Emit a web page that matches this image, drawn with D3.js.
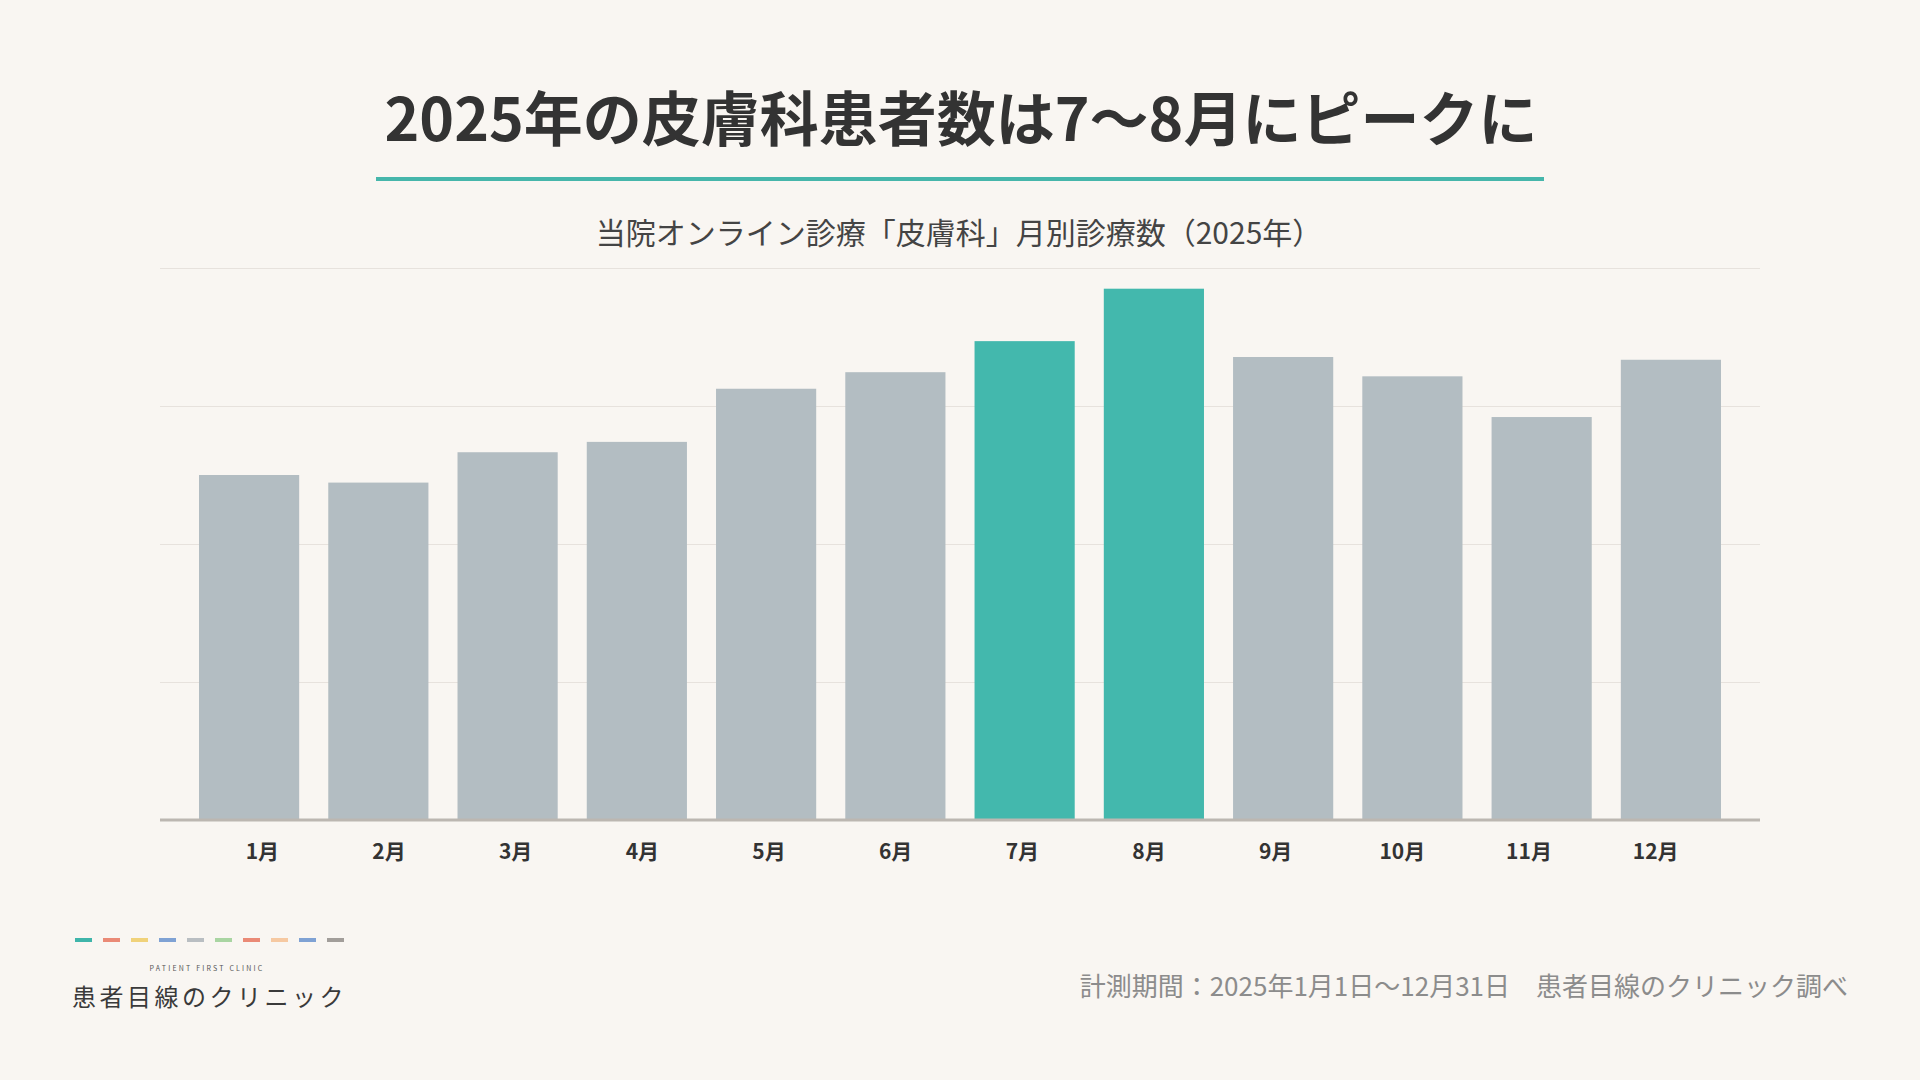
<!DOCTYPE html>
<html lang="ja">
<head>
<meta charset="utf-8">
<script src="https://cdn.jsdelivr.net/npm/d3@7"></script>
<style>
  body { margin: 0; background: #f9f6f2; }
  svg { display: block; font-family: "Noto Sans CJK JP", "Noto Sans", sans-serif; }
</style>
</head>
<body>
<div id="chart"></div>
<script>
var months = ["1月", "2月", "3月", "4月", "5月", "6月", "7月", "8月", "9月", "10月", "11月", "12月"];
var visits = [2500, 2445, 2665, 2740, 3125, 3245, 3470, 3850, 3355, 3215, 2920, 3335];
var peakMonths = ["7月", "8月"];
var gridTicks = [0, 1000, 2000, 3000, 4000];
var logoColors = ["#3fb5aa", "#ea8a76", "#f0d27a", "#7fa2d4", "#b9bec2", "#a9d5a2", "#ea8a76", "#f6c9a2", "#7fa2d4", "#a29e9a"];

var W = 1920, H = 1080;

var svg = d3.select("#chart")
    .append("svg")
    .attr("width", W)
    .attr("height", H);

svg.append("rect")
    .attr("width", W)
    .attr("height", H)
    .attr("fill", "#f9f6f2");

// title
svg.append("text")
    .attr("x", 961)
    .attr("y", 141)
    .attr("text-anchor", "middle")
    .attr("fill", "#333333")
    .attr("font-weight", "bold")
    .style("font-size", "59px")
    .text("2025年の皮膚科患者数は7〜8月にピークに");

svg.append("rect")
    .attr("x", 376)
    .attr("y", 177)
    .attr("width", 1168)
    .attr("height", 4)
    .attr("fill", "#46b6ab");

svg.append("text")
    .attr("x", 959)
    .attr("y", 244)
    .attr("text-anchor", "middle")
    .attr("fill", "#444444")
    .style("font-size", "30px")
    .text("当院オンライン診療「皮膚科」月別診療数（2025年）");

// chart area
var plotLeft = 160, plotRight = 1760, plotTop = 268, plotBottom = 820;

var y = d3.scaleLinear()
    .domain([0, 4000])
    .range([plotBottom, plotTop]);

var x = d3.scaleBand()
    .domain(months)
    .range([199, 1721])
    .paddingInner(0.225)
    .paddingOuter(0);

var xLabel = d3.scaleBand()
    .domain(months)
    .range([199, 1719])
    .padding(0);

svg.append("g")
    .attr("class", "grid")
    .attr("transform", "translate(" + plotLeft + ",0)")
    .call(d3.axisLeft(y).tickValues(gridTicks.slice(1)).tickSize(-(plotRight - plotLeft)).tickFormat(""))
    .call(function (g) { g.select(".domain").remove(); })
    .call(function (g) {
        g.selectAll("line").attr("stroke", "#e7e2dd").attr("stroke-width", 1);
    });

svg.append("g")
    .selectAll("rect")
    .data(visits)
    .enter()
    .append("rect")
    .attr("x", function (d, i) { return x(months[i]); })
    .attr("y", function (d) { return y(d); })
    .attr("width", x.bandwidth())
    .attr("height", function (d) { return y(0) - y(d); })
    .attr("fill", function (d, i) {
        return peakMonths.indexOf(months[i]) >= 0 ? "#43b8ad" : "#b3bdc2";
    });

svg.append("line")
    .attr("x1", plotLeft)
    .attr("x2", plotRight)
    .attr("y1", y(0))
    .attr("y2", y(0))
    .attr("stroke", "#bcb7b1")
    .attr("stroke-width", 3);

svg.append("g")
    .selectAll("text")
    .data(months)
    .enter()
    .append("text")
    .attr("x", function (d) { return xLabel(d) + xLabel.bandwidth() / 2; })
    .attr("y", 859)
    .attr("text-anchor", "middle")
    .attr("fill", "#333333")
    .attr("font-weight", "bold")
    .style("font-size", "21px")
    .text(function (d) { return d; });

// logo
svg.append("g")
    .selectAll("rect")
    .data(logoColors)
    .enter()
    .append("rect")
    .attr("x", function (d, i) { return 75 + i * 28; })
    .attr("y", 938)
    .attr("width", 17)
    .attr("height", 4)
    .attr("fill", function (d) { return d; });

svg.append("text")
    .attr("x", 207)
    .attr("y", 971)
    .attr("text-anchor", "middle")
    .attr("fill", "#555555")
    .style("font-size", "7px")
    .style("letter-spacing", "2.2px")
    .text("PATIENT  FIRST  CLINIC");

svg.append("text")
    .attr("x", 72)
    .attr("y", 1006)
    .attr("fill", "#3a3a3a")
    .style("font-size", "24px")
    .style("letter-spacing", "3.5px")
    .text("患者目線のクリニック");

svg.append("text")
    .attr("x", 1848)
    .attr("y", 996)
    .attr("text-anchor", "end")
    .attr("fill", "#8c8c8c")
    .style("font-size", "26px")
    .text("計測期間：2025年1月1日〜12月31日　患者目線のクリニック調べ");
</script>
</body>
</html>
